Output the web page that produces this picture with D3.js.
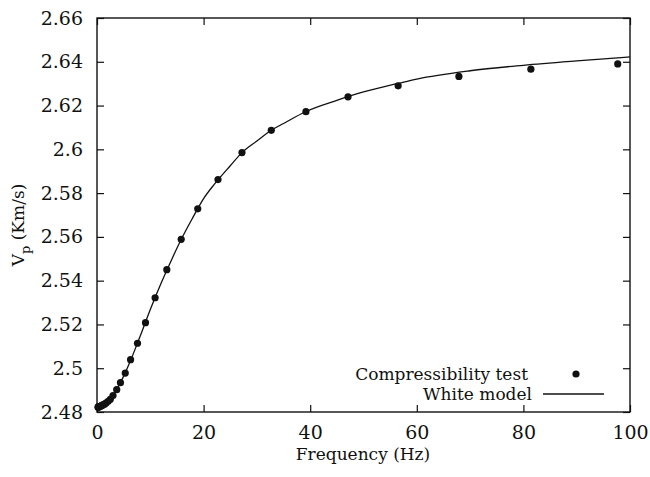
<!DOCTYPE html>
<html>
<head>
<meta charset="utf-8">
<script src="https://cdn.jsdelivr.net/npm/d3@7"></script>
<style>
  body { margin: 0; background: #fff; }
</style>
</head>
<body>
<div id="chart"></div>
<script>
const width = 650;
const height = 477;

// measured points (compressibility test)
const testFreq = [0.2, 0.24, 0.28, 0.34, 0.41, 0.49, 0.59, 0.7, 0.85, 1.0, 1.22, 1.46, 1.75, 2.1, 2.5, 3.0, 3.7, 4.4, 5.3, 6.3, 7.6, 9.1, 10.9, 13.1, 15.8, 18.9, 22.7, 27.2, 32.7, 39.2, 47.1, 56.5, 67.9, 81.4, 97.7];
const testVp = [2.4822, 2.4822, 2.4823, 2.4823, 2.4824, 2.4825, 2.4826, 2.4827, 2.4829, 2.4831, 2.4834, 2.4837, 2.4842, 2.4849, 2.4858, 2.4875, 2.4902, 2.4934, 2.4978, 2.5039, 2.5114, 2.5208, 2.5322, 2.5450, 2.5589, 2.5728, 2.5862, 2.5985, 2.6087, 2.6172, 2.6240, 2.6290, 2.6333, 2.6366, 2.6390];

// White model curve
const modelFreq = [0, 1, 2, 3, 4, 5, 6, 8, 10, 12, 14, 16, 18, 20, 22, 25, 27.2, 30, 32.7, 35, 39.2, 45, 50, 56.5, 60, 70, 80, 90, 100];
const modelVp = [2.4822, 2.4831, 2.4847, 2.4876, 2.4916, 2.4964, 2.5018, 2.5140, 2.5268, 2.5387, 2.5496, 2.5598, 2.5689, 2.5775, 2.5840, 2.5925, 2.5985, 2.6038, 2.6087, 2.6118, 2.6173, 2.6224, 2.6262, 2.6301, 2.6321, 2.6359, 2.6384, 2.6404, 2.6422];

const xTicks = [0, 20, 40, 60, 80, 100];
const yTicks = [2.48, 2.5, 2.52, 2.54, 2.56, 2.58, 2.6, 2.62, 2.64, 2.66];

const mLeft = 97, mRight = 630, mTop = 18, mBottom = 412;
const serif = "'DejaVu Serif', serif";

const svg = d3.select("#chart").append("svg").attr("width", width).attr("height", height)
  .style("font-family", serif);

const x = d3.scaleLinear().domain([0, 100]).range([mLeft, mRight]);
const y = d3.scaleLinear().domain([2.48, 2.66]).range([mBottom, mTop]);

// ticks, drawn inward on all sides
const tickLen = 7;
const axisStyle = g => {
  g.attr("font-family", null).attr("font-size", null);
  g.select(".domain").remove();
  g.selectAll(".tick line").attr("stroke", "#111").attr("stroke-width", 1.2);
  g.selectAll(".tick text").style("font-family", serif).style("font-size", "19px").attr("fill", "#111");
};

svg.append("g").attr("transform", `translate(0,${mBottom})`)
  .call(d3.axisBottom(x).tickValues(xTicks).tickSize(-tickLen).tickPadding(14).tickFormat(d3.format("d")))
  .call(axisStyle);
svg.append("g").attr("transform", `translate(0,${mTop})`)
  .call(d3.axisTop(x).tickValues(xTicks).tickSize(-tickLen).tickFormat(""))
  .call(axisStyle);
svg.append("g").attr("transform", `translate(${mLeft},0)`)
  .call(d3.axisLeft(y).tickValues(yTicks).tickSize(-tickLen).tickPadding(14).tickFormat(d => String(+d.toFixed(2))))
  .call(axisStyle);
svg.append("g").attr("transform", `translate(${mRight},0)`)
  .call(d3.axisRight(y).tickValues(yTicks).tickSize(-tickLen).tickFormat(""))
  .call(axisStyle);

// frame
svg.append("rect").attr("x", mLeft).attr("y", mTop).attr("width", mRight - mLeft).attr("height", mBottom - mTop)
  .attr("fill", "none").attr("stroke", "#111").attr("stroke-width", 1.4);

// model line
const line = d3.line().x((d, i) => x(modelFreq[i])).y(d => y(d)).curve(d3.curveMonotoneX);
svg.append("path").datum(modelVp).attr("d", line)
  .attr("fill", "none").attr("stroke", "#111").attr("stroke-width", 1.3);

// test points
svg.append("g").selectAll("circle").data(testVp).join("circle")
  .attr("cx", (d, i) => x(testFreq[i])).attr("cy", d => y(d)).attr("r", 3.6).attr("fill", "#111");

// axis titles
svg.append("text").attr("x", 363).attr("y", 460).attr("text-anchor", "middle")
  .style("font-family", serif).style("font-size", "17px").attr("fill", "#111").text("Frequency (Hz)");
const yl = svg.append("text").attr("transform", "translate(24,225) rotate(-90)").attr("text-anchor", "middle")
  .style("font-family", serif).style("font-size", "17px").attr("fill", "#111");
yl.append("tspan").text("V");
yl.append("tspan").attr("dy", 6).style("font-size", "13px").text("p");
yl.append("tspan").attr("dy", -6).text(" (Km/s)");

// legend
const lg = svg.append("g").style("font-family", serif).style("font-size", "17px").attr("fill", "#111");
lg.append("text").attr("x", 528).attr("y", 380).attr("text-anchor", "end").text("Compressibility test");
lg.append("circle").attr("cx", 576).attr("cy", 374).attr("r", 3.6).attr("fill", "#111");
lg.append("text").attr("x", 532).attr("y", 400).attr("text-anchor", "end").text("White model");
lg.append("line").attr("x1", 543).attr("x2", 604).attr("y1", 394).attr("y2", 394).attr("stroke", "#111").attr("stroke-width", 1.3);
</script>
</body>
</html>
